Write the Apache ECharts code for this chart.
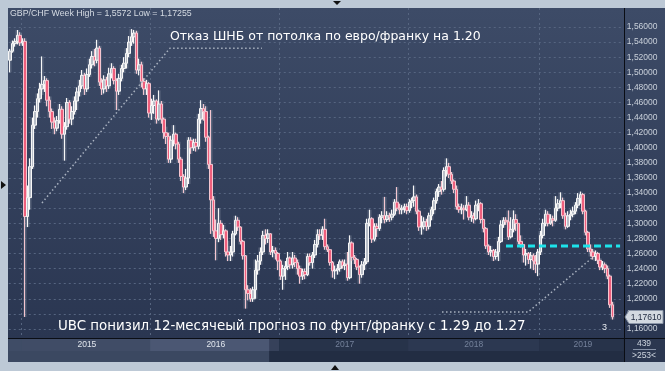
<!DOCTYPE html>
<html><head><meta charset="utf-8">
<script src="https://cdn.jsdelivr.net/npm/echarts@6/dist/echarts.min.js"></script>
<style>html,body{margin:0;padding:0;background:#bdc9d6;}#c{width:665px;height:371px;}</style>
</head><body><div id="c"></div>
<script>
// ---------- data ----------
const weekStart = '2014-12-01';
const padWeeks = 4;
const opens = [1.516,1.528,1.538,1.541,1.549,1.539,1.541,1.309,1.334,1.375,
 1.430,1.448,1.465,1.478,1.484,1.489,1.463,1.448,1.434,1.426,
 1.436,1.451,1.418,1.428,1.460,1.438,1.448,1.462,1.474,1.482,
 1.496,1.478,1.497,1.510,1.521,1.516,1.532,1.487,1.478,1.490,
 1.482,1.498,1.505,1.489,1.475,1.492,1.505,1.512,1.525,1.540,
 1.547,1.552,1.503,1.510,1.488,1.478,1.485,1.446,1.456,1.462,
 1.438,1.458,1.438,1.420,1.415,1.385,1.410,1.418,1.405,1.385,
 1.362,1.348,1.360,1.410,1.400,1.407,1.402,1.438,1.452,1.448,
 1.414,1.378,1.331,1.290,1.280,1.300,1.285,1.290,1.262,1.258,
 1.262,1.286,1.304,1.295,1.276,1.257,1.212,1.207,1.200,1.212,
 1.238,1.250,1.262,1.284,1.280,1.286,1.262,1.264,1.260,1.250,
 1.230,1.240,1.243,1.254,1.245,1.254,1.248,1.240,1.230,1.236,
 1.232,1.256,1.248,1.258,1.272,1.285,1.284,1.292,1.269,1.265,
 1.248,1.237,1.238,1.240,1.249,1.244,1.246,1.228,1.274,1.255,
 1.252,1.242,1.232,1.245,1.249,1.300,1.306,1.279,1.296,1.293,
 1.308,1.310,1.305,1.310,1.308,1.312,1.328,1.320,1.318,1.320,
 1.322,1.317,1.328,1.330,1.335,1.316,1.295,1.296,1.302,1.296,
 1.310,1.318,1.330,1.342,1.348,1.345,1.370,1.375,1.365,1.356,
 1.345,1.322,1.318,1.320,1.318,1.324,1.308,1.310,1.306,1.324,
 1.326,1.305,1.293,1.270,1.262,1.264,1.256,1.262,1.276,1.298,
 1.304,1.302,1.282,1.292,1.305,1.300,1.276,1.272,1.258,1.260,
 1.252,1.257,1.250,1.246,1.262,1.284,1.300,1.312,1.300,1.306,
 1.304,1.320,1.326,1.330,1.310,1.296,1.310,1.312,1.316,1.324,
 1.333,1.338,1.316,1.288,1.266,1.262,1.256,1.260,1.251,1.242,
 1.245,1.240,1.230,1.192];
const closes = [1.528,1.538,1.541,1.549,1.539,1.541,1.309,1.334,1.375,1.430,
 1.448,1.465,1.478,1.484,1.489,1.463,1.448,1.434,1.426,1.436,
 1.451,1.418,1.428,1.460,1.438,1.448,1.462,1.474,1.482,1.496,
 1.478,1.497,1.510,1.521,1.516,1.532,1.487,1.478,1.490,1.482,
 1.498,1.505,1.489,1.475,1.492,1.505,1.512,1.525,1.540,1.547,
 1.552,1.503,1.510,1.488,1.478,1.485,1.446,1.456,1.462,1.438,
 1.458,1.438,1.420,1.415,1.385,1.410,1.418,1.405,1.385,1.362,
 1.348,1.360,1.410,1.400,1.407,1.402,1.438,1.452,1.448,1.414,
 1.378,1.331,1.290,1.280,1.300,1.285,1.290,1.262,1.258,1.262,
 1.286,1.304,1.295,1.276,1.257,1.212,1.207,1.200,1.212,1.238,
 1.250,1.262,1.284,1.280,1.286,1.262,1.264,1.260,1.250,1.230,
 1.240,1.243,1.254,1.245,1.254,1.248,1.240,1.230,1.236,1.232,
 1.256,1.248,1.258,1.272,1.285,1.284,1.292,1.269,1.265,1.248,
 1.237,1.238,1.240,1.249,1.244,1.246,1.228,1.274,1.255,1.252,
 1.242,1.232,1.245,1.249,1.300,1.306,1.279,1.296,1.293,1.308,
 1.310,1.305,1.310,1.308,1.312,1.328,1.320,1.318,1.320,1.322,
 1.317,1.328,1.330,1.335,1.316,1.295,1.296,1.302,1.296,1.310,
 1.318,1.330,1.342,1.348,1.345,1.370,1.375,1.365,1.356,1.345,
 1.322,1.318,1.320,1.318,1.324,1.308,1.310,1.306,1.324,1.326,
 1.305,1.293,1.270,1.262,1.264,1.256,1.262,1.276,1.298,1.304,
 1.302,1.282,1.292,1.305,1.300,1.276,1.272,1.258,1.260,1.252,
 1.257,1.250,1.246,1.262,1.284,1.300,1.312,1.300,1.306,1.304,
 1.320,1.326,1.330,1.310,1.296,1.310,1.312,1.316,1.324,1.333,
 1.338,1.316,1.288,1.266,1.262,1.256,1.260,1.251,1.242,1.245,
 1.240,1.230,1.192,1.1761];
const highs = [1.531,1.542,1.545,1.556,1.553,1.545,1.545,1.350,1.386,1.440,
 1.456,1.472,1.486,1.521,1.495,1.492,1.468,1.452,1.440,1.442,
 1.458,1.455,1.434,1.466,1.463,1.455,1.468,1.480,1.490,1.503,
 1.499,1.505,1.518,1.528,1.531,1.543,1.535,1.492,1.496,1.494,
 1.506,1.512,1.508,1.492,1.498,1.510,1.520,1.532,1.548,1.5572,
 1.556,1.555,1.518,1.514,1.492,1.490,1.487,1.465,1.470,1.464,
 1.476,1.462,1.440,1.428,1.420,1.416,1.430,1.420,1.408,1.388,
 1.365,1.372,1.414,1.414,1.412,1.412,1.445,1.463,1.458,1.455,
 1.416,1.450,1.336,1.305,1.320,1.304,1.298,1.292,1.277,1.270,
 1.290,1.310,1.308,1.296,1.278,1.258,1.218,1.214,1.216,1.252,
 1.258,1.268,1.290,1.292,1.292,1.287,1.270,1.268,1.262,1.252,
 1.245,1.250,1.262,1.256,1.262,1.258,1.252,1.244,1.240,1.240,
 1.260,1.260,1.262,1.278,1.292,1.292,1.296,1.306,1.272,1.266,
 1.250,1.244,1.246,1.252,1.252,1.252,1.262,1.284,1.276,1.258,
 1.254,1.244,1.250,1.254,1.306,1.318,1.308,1.300,1.300,1.312,
 1.316,1.335,1.316,1.314,1.318,1.332,1.348,1.326,1.324,1.326,
 1.326,1.332,1.334,1.350,1.338,1.318,1.310,1.308,1.306,1.314,
 1.322,1.334,1.346,1.352,1.356,1.374,1.386,1.380,1.368,1.358,
 1.350,1.326,1.326,1.324,1.336,1.328,1.316,1.314,1.330,1.332,
 1.328,1.306,1.295,1.272,1.270,1.266,1.266,1.282,1.304,1.308,
 1.308,1.317,1.308,1.317,1.312,1.300,1.284,1.272,1.266,1.262,
 1.262,1.260,1.258,1.266,1.290,1.306,1.318,1.316,1.312,1.310,
 1.336,1.332,1.341,1.334,1.314,1.316,1.318,1.322,1.328,1.340,
 1.342,1.340,1.318,1.290,1.272,1.266,1.264,1.262,1.254,1.250,
 1.248,1.244,1.232,1.196];
const lows = [1.500,1.526,1.534,1.537,1.535,1.535,1.176,1.295,1.318,1.372,
 1.425,1.440,1.460,1.470,1.474,1.455,1.440,1.425,1.418,1.422,
 1.432,1.412,1.383,1.424,1.432,1.430,1.444,1.450,1.468,1.478,
 1.470,1.474,1.494,1.505,1.508,1.512,1.482,1.470,1.472,1.474,
 1.478,1.492,1.484,1.450,1.470,1.488,1.500,1.505,1.520,1.535,
 1.538,1.498,1.496,1.480,1.470,1.470,1.440,1.437,1.445,1.432,
 1.436,1.432,1.412,1.405,1.380,1.380,1.402,1.398,1.380,1.356,
 1.340,1.344,1.352,1.392,1.396,1.395,1.398,1.432,1.436,1.408,
 1.372,1.286,1.282,1.251,1.275,1.278,1.280,1.256,1.250,1.250,
 1.256,1.284,1.290,1.272,1.252,1.187,1.198,1.196,1.196,1.200,
 1.232,1.245,1.258,1.272,1.274,1.258,1.255,1.252,1.238,1.225,
 1.212,1.225,1.238,1.240,1.240,1.242,1.232,1.220,1.225,1.226,
 1.230,1.244,1.240,1.254,1.268,1.278,1.278,1.265,1.262,1.244,
 1.228,1.226,1.232,1.236,1.240,1.238,1.224,1.226,1.250,1.246,
 1.238,1.220,1.228,1.238,1.246,1.296,1.274,1.276,1.282,1.290,
 1.300,1.300,1.302,1.302,1.304,1.310,1.316,1.312,1.312,1.314,
 1.312,1.314,1.320,1.322,1.312,1.290,1.285,1.292,1.290,1.292,
 1.304,1.312,1.326,1.335,1.338,1.342,1.362,1.360,1.352,1.340,
 1.318,1.314,1.312,1.305,1.316,1.304,1.302,1.300,1.304,1.316,
 1.300,1.288,1.266,1.258,1.256,1.250,1.252,1.250,1.274,1.294,
 1.298,1.278,1.280,1.288,1.290,1.272,1.268,1.248,1.244,1.246,
 1.240,1.238,1.234,1.230,1.258,1.280,1.296,1.296,1.298,1.296,
 1.302,1.316,1.320,1.306,1.292,1.294,1.304,1.308,1.312,1.320,
 1.326,1.312,1.284,1.262,1.256,1.252,1.250,1.246,1.238,1.238,
 1.234,1.226,1.188,1.17255];

const priceMin = 1.16, priceMax = 1.56, priceStep = 0.02;
const note1Path = [[12.9, 1.327], [64.5, 1.532], [101.6, 1.532]];
const note2Path = [[174.2, 1.1824], [208.9, 1.1824], [235.1, 1.2553]];
const targetLine = [[200, 1.27], [246, 1.27]];
const scrollThumbEndIdx = 104;
const titleText = 'GBP/CHF Week High = 1,5572 Low = 1,17255';
const note1Text = 'Отказ ШНБ от потолка по евро/франку на 1.20';
const note2Text = 'UBC понизил 12-месячеый прогноз по фунт/франку с 1.29 до 1.27';
const barsInfo = ['439', '>253<'];
const waveLabel = '3';

// ---------- build ----------
const N = opens.length + padWeeks;
const cats = [];
const d0 = Date.parse(weekStart + 'T00:00:00Z');
for (let i = 0; i < N; i++) cats.push(new Date(d0 + i * 7 * 86400000).toISOString().slice(0, 10));
const yearOf = i => +cats[i].slice(0, 4);
const bands = [];
for (let i = 0; i < N; i++) {
  if (i === 0 || yearOf(i) !== yearOf(i - 1)) bands.push({ year: yearOf(i), start: i });
}
bands.forEach((b, k) => { b.end = k + 1 < bands.length ? bands[k + 1].start : N; b.mid = Math.floor((b.start + b.end) / 2); });
const labelIdx = {};
bands.filter(b => b.start > 0).forEach(b => { labelIdx[b.mid] = b.year; });

const candleData = opens.map((o, i) => [o, closes[i], lows[i], highs[i]]);
const ghostData = opens.map((o, i) => [lows[i], highs[i], lows[i], highs[i]]);

const chart = echarts.init(document.getElementById('c'), null, { renderer: 'canvas', width: 665, height: 371 });
const FONT = '"Liberation Sans", Arial, sans-serif';
const gridLeft = 8.76, gridRightPx = 623.8;

chart.setOption({
  animation: false,
  backgroundColor: '#bdc9d6',
  grid: { left: gridLeft, right: 665 - gridRightPx, top: 27, bottom: 371 - 329, containLabel: false },
  xAxis: [{
    type: 'category', data: cats, boundaryGap: true, z: 20,
    axisLine: { show: false }, axisTick: { show: false }, splitLine: { show: false },
    axisLabel: {
      interval: (i) => labelIdx[i] !== undefined,
      margin: 11, fontSize: 8.5, fontFamily: FONT,
      formatter: (v, i) => (i <= scrollThumbEndIdx ? '{a|' : '{b|') + labelIdx[i] + '}',
      rich: { a: { color: '#e1e6ed', fontSize: 8.5, fontFamily: FONT }, b: { color: '#74819a', fontSize: 8.5, fontFamily: FONT } }
    }
  }, {
    type: 'value', min: -0.5, max: N - 0.5, show: false
  }],
  yAxis: [{
    type: 'value', position: 'right', min: priceMin, max: priceMax, interval: priceStep, scale: true,
    axisLine: { show: false }, axisTick: { show: false },
    axisLabel: { margin: 3, color: '#c9d0da', fontSize: 8.5, fontFamily: FONT,
      formatter: v => v.toFixed(5).replace('.', ',') },
    splitLine: { show: true, lineStyle: { color: '#566580', width: 1, type: [2, 3] } }
  }],
  series: [{
    type: 'candlestick', name: 'range', data: ghostData, barWidth: 4, silent: true,
    itemStyle: { color: 'rgba(175,182,196,0.3)', color0: 'rgba(175,182,196,0.3)', borderWidth: 0, borderColor: 'rgba(0,0,0,0)', borderColor0: 'rgba(0,0,0,0)' }
  }, {
    type: 'candlestick', name: 'GBP/CHF', data: candleData, barWidth: 3, silent: true,
    itemStyle: { color: '#b9bfc9', color0: '#ef5f7d', borderColor: '#f7f7f7', borderColor0: '#f5c6d0', borderWidth: 1 }
  }, {
    type: 'line', xAxisIndex: 1, data: targetLine, symbol: 'none', silent: true, z: 5,
    lineStyle: { color: '#1de3ea', width: 3, type: [7, 4] }
  }, {
    type: 'line', xAxisIndex: 1, data: note1Path, symbol: 'none', silent: true, z: 5,
    lineStyle: { color: '#a9b2c0', width: 1.5, type: [1.5, 2.5] }
  }, {
    type: 'line', xAxisIndex: 1, data: note2Path, symbol: 'none', silent: true, z: 5,
    lineStyle: { color: '#a9b2c0', width: 1.5, type: [1.5, 2.5] }
  }]
});

// ---------- decorations positioned through the axes ----------
const xPx = v => chart.convertToPixel({ xAxisIndex: 1 }, v);
const yPx = v => chart.convertToPixel({ yAxisIndex: 0 }, v);
const G = [];
G.push({ type: 'rect', z: -10, silent: true, shape: { x: 8, y: 8, width: 657, height: 330 },
  style: { fill: new echarts.graphic.LinearGradient(0, 0, 0, 1, [{ offset: 0, color: '#3d4b67' }, { offset: 1, color: '#2a3651' }]) } });
bands.filter(b => b.start > 0).forEach(b => {
  const x = Math.round(xPx(b.start - 0.5)) + 0.5;
  G.push({ type: 'line', z: -5, silent: true, shape: { x1: x, y1: 8, x2: x, y2: 338 }, style: { stroke: '#566580', lineWidth: 1, lineDash: [2, 3] } });
});
const topCols = { 2014: '#27324a', 2015: '#28334a', 2016: '#36415a', 2017: '#27334a', 2018: '#2c3851', 2019: '#27334a' };
G.push({ type: 'rect', z: 10, silent: true, shape: { x: 8, y: 338, width: 616, height: 24 }, style: { fill: '#222d43' } });
bands.forEach(b => {
  const x1 = Math.max(8, xPx(b.start - 0.5)), x2 = Math.min(624, xPx(b.end - 0.5));
  G.push({ type: 'rect', z: 10, silent: true, shape: { x: x1, y: 338, width: x2 - x1, height: 13 }, style: { fill: topCols[b.year] || '#27334a' } });
});
const thumbX = xPx(scrollThumbEndIdx + 0.5);
G.push({ type: 'rect', z: 11, silent: true, shape: { x: 8, y: 338, width: thumbX - 8, height: 24 }, style: { fill: 'rgba(150,170,205,0.22)' } });
G.push({ type: 'rect', z: 10, silent: true, shape: { x: 624, y: 338, width: 41, height: 24 }, style: { fill: '#2b3750' } });
G.push({ type: 'text', z: 12, silent: true, style: { text: barsInfo[0], x: 644, y: 344, align: 'center', verticalAlign: 'middle', fill: '#cdd4de', font: '8.5px ' + FONT } });
G.push({ type: 'line', z: 12, silent: true, shape: { x1: 633, y1: 349.5, x2: 656, y2: 349.5 }, style: { stroke: '#8793a8', lineWidth: 1 } });
G.push({ type: 'text', z: 12, silent: true, style: { text: barsInfo[1], x: 644, y: 355.5, align: 'center', verticalAlign: 'middle', fill: '#cdd4de', font: '8.5px ' + FONT } });
G.push({ type: 'line', z: 13, silent: true, shape: { x1: 624.5, y1: 8, x2: 624.5, y2: 362 }, style: { stroke: '#0a0d14', lineWidth: 1 } });
G.push({ type: 'line', z: 13, silent: true, shape: { x1: 8, y1: 338.5, x2: 665, y2: 338.5 }, style: { stroke: '#0a0d14', lineWidth: 1 } });
G.push({ type: 'polygon', z: 13, silent: true, shape: { points: [[1, 181], [6, 185], [1, 189]] }, style: { fill: '#111' } });
G.push({ type: 'polygon', z: 13, silent: true, shape: { points: [[333, 1], [341, 1], [337, 5]] }, style: { fill: '#111' } });
G.push({ type: 'polygon', z: 13, silent: true, shape: { points: [[331, 370], [339, 370], [335, 365]] }, style: { fill: '#111' } });
const lastClose = closes[closes.length - 1];
const ly = Math.round(yPx(lastClose));
G.push({ type: 'polygon', z: 14, silent: true, shape: { points: [[625, ly], [629, ly - 6.5], [663, ly - 6.5], [663, ly + 6.5], [629, ly + 6.5]] }, style: { fill: '#d3d9e0', stroke: '#8b96a8', lineWidth: 1 } });
G.push({ type: 'text', z: 15, silent: true, style: { text: lastClose.toFixed(5).replace('.', ','), x: 646, y: ly + 0.5, align: 'center', verticalAlign: 'middle', fill: '#222c42', font: '8.5px ' + FONT } });
G.push({ type: 'text', z: 14, silent: true, style: { text: titleText, x: 10, y: 14, align: 'left', verticalAlign: 'middle', fill: '#d5dbe3', font: '8.8px ' + FONT } });
G.push({ type: 'text', z: 14, silent: true, style: { text: note1Text, x: 170, y: 36.5, align: 'left', verticalAlign: 'middle', fill: '#ffffff', font: '12.5px "DejaVu Sans", sans-serif' } });
G.push({ type: 'text', z: 14, silent: true, style: { text: note2Text, x: 58, y: 326.5, align: 'left', verticalAlign: 'middle', fill: '#ffffff', font: '13.4px "DejaVu Sans", sans-serif' } });
G.push({ type: 'text', z: 14, silent: true, style: { text: waveLabel, x: 602, y: 328, align: 'left', verticalAlign: 'middle', fill: '#e6e9ee', font: '9px ' + FONT } });

chart.setOption({ graphic: { elements: G } });
</script>
</body></html>
